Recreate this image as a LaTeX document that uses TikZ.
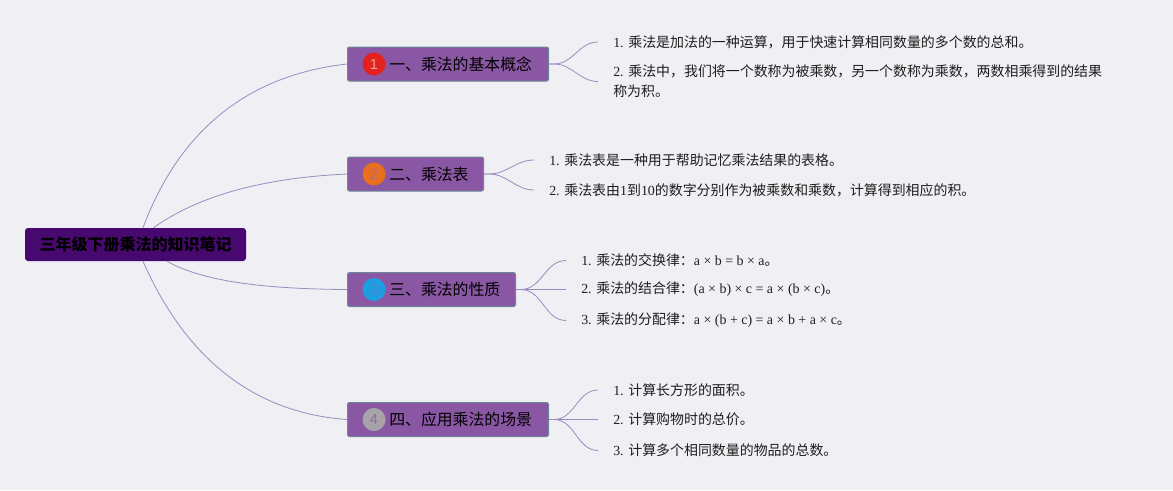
\documentclass[tikz,border=0pt]{standalone}
\usepackage{fontspec}
\setmainfont{Liberation Serif}
\newfontfamily\cjk{Noto Sans CJK SC}
\newfontfamily\badgefont{Liberation Sans}
\definecolor{bgc}{HTML}{F0EFF3}
\definecolor{rootc}{HTML}{47096F}
\definecolor{brc}{HTML}{8A57A4}
\definecolor{brd}{HTML}{6B8797}
\definecolor{linkc}{HTML}{9B8BC2}
\definecolor{leafc}{HTML}{1E1E1E}
\definecolor{bred}{HTML}{E2221C}
\definecolor{bredt}{HTML}{F2A19B}
\definecolor{borange}{HTML}{E8701C}
\definecolor{boranget}{HTML}{B0658C}
\definecolor{bblue}{HTML}{1E9DE0}
\definecolor{bbluet}{HTML}{4F89D2}
\definecolor{bgray}{HTML}{A8A3A9}
\definecolor{bgrayt}{HTML}{8E70A6}
\begin{document}
\begin{tikzpicture}[x=0.75pt,y=-0.75pt,
  rootbox/.style={fill=rootc, rounded corners=2.25pt, minimum width=165.75pt,
    minimum height=24.75pt, inner sep=0, text=black,
    font=\cjk\bfseries\fontsize{12}{14}\selectfont},
  branchbox/.style={fill=brc, draw=brd, line width=0.75pt, rounded corners=1.5pt,
    minimum height=25.5pt, inner sep=0, anchor=west},
  btext/.style={anchor=west, inner sep=0, text=black,
    font=\cjk\fontsize{11.9}{14}\selectfont},
  badge/.style={circle, minimum size=17.25pt, inner sep=0,
    font=\badgefont\fontsize{11}{13}\selectfont},
  leaf/.style={anchor=west, inner xsep=11.25pt, inner ysep=0, text=leafc,
    align=left, font=\fontsize{10.45}{15}\selectfont},
  link/.style={draw=linkc, line width=0.6pt}
]
\fill[bgc] (0,0) rectangle (1173,490);
\useasboundingbox (0,0) rectangle (1173,490);

% root
\node[rootbox] (root) at (135.5,244.5) {三年级下册乘法的知识笔记};

% branches
\node[branchbox, minimum width=150.75pt] (b1) at (347,64) {};
\node[branchbox, minimum width=102pt] (b2) at (347,174) {};
\node[branchbox, minimum width=126pt] (b3) at (347,289.5) {};
\node[branchbox, minimum width=150.75pt] (b4) at (347,419.5) {};

\node[badge, fill=bred, text=bredt] (n1) at (374,64) {1};
\node[badge, fill=borange, text=boranget] (n2) at (374,174) {2};
\node[badge, fill=bblue, text=bbluet] (n3) at (374,289.5) {3};
\node[badge, fill=bgray, text=bgrayt] (n4) at (374,419.5) {4};

\node[btext] (t1) at (389,64) {一、乘法的基本概念};
\node[btext] (t2) at (389,174) {二、乘法表};
\node[btext] (t3) at (389,289.5) {三、乘法的性质};
\node[btext] (t4) at (389,419.5) {四、应用乘法的场景};

% root links
\draw[link] (root.66) .. controls (180,129) and (249,75) .. (b1.west);
\draw[link] (root.43) .. controls (198,196) and (262,178) .. (b2.west);
\draw[link] (root.-28) .. controls (202,281) and (262,289) .. (b3.west);
\draw[link] (root.-66) .. controls (187,361) and (256,413) .. (b4.west);

% leaves
\node[leaf] (l11) at (598,42) {1. {\cjk 乘法是加法的一种运算，用于快速计算相同数量的多个数的总和。}};
\node[leaf] (l12) at (598,81.5) {2. {\cjk 乘法中，我们将一个数称为被乘数，另一个数称为乘数，两数相乘得到的结果}\\{\cjk 称为积。}};

\node[leaf] (l21) at (534,160) {1. {\cjk 乘法表是一种用于帮助记忆乘法结果的表格。}};
\node[leaf] (l22) at (534,190) {2. {\cjk 乘法表由}1{\cjk 到}10{\cjk 的数字分别作为被乘数和乘数，计算得到相应的积。}};

\node[leaf] (l31) at (566,260.5) {1. {\cjk 乘法的交换律：}a × b = b × a{\cjk 。}};
\node[leaf] (l32) at (566,289.5) {2. {\cjk 乘法的结合律：}(a × b) × c = a × (b × c){\cjk 。}};
\node[leaf] (l33) at (566,320.5) {3. {\cjk 乘法的分配律：}a × (b + c) = a × b + a × c{\cjk 。}};

\node[leaf] (l41) at (598,390) {1. {\cjk 计算长方形的面积。}};
\node[leaf] (l42) at (598,419.5) {2. {\cjk 计算购物时的总价。}};
\node[leaf] (l43) at (598,450.5) {3. {\cjk 计算多个相同数量的物品的总数。}};

% leaf links
\foreach \b/\l in {b1/l11,b1/l12,b2/l21,b2/l22,b3/l31,b3/l32,b3/l33,b4/l41,b4/l42,b4/l43}
  \draw[link] (\b.east) -- ++(5,0) to[out=0,in=180] (\l.west);
\end{tikzpicture}
\end{document}
